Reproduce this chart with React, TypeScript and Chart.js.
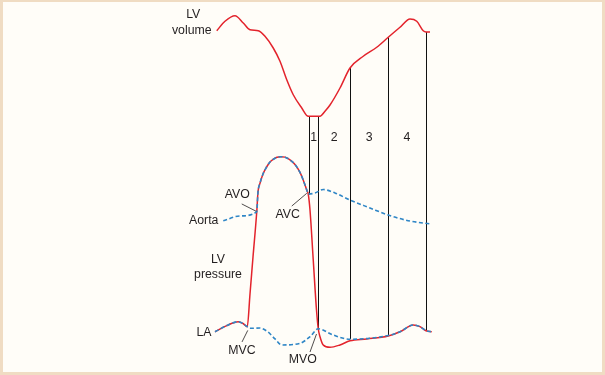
import React, { useEffect, useRef } from 'react';
import { Chart, registerables } from 'chart.js';

Chart.register(...registerables);

// ---- Data (time in ms, pressure in mmHg, volume in mL) ----
const volumeTimes = [7, 40, 80, 113, 140, 173, 200, 233, 260, 287, 313, 347, 373, 420, 440, 460, 500, 540, 593, 647, 693, 740, 780, 807, 833, 844, 860];
const lvVolume = [118.6, 126.2, 130.6, 124.8, 119.4, 118.6, 114.2, 104.8, 94.2, 79.4, 67.4, 56.8, 50.2, 50.2, 54.2, 59.2, 72.8, 88.8, 98.2, 105.4, 113.4, 121.4, 128, 126.2, 118.6, 117.6, 117.6];

const lvPressureTimes = [0, 47, 93, 112, 129, 140, 152, 167, 172, 180, 192, 207, 220, 233, 248, 263, 280, 300, 320, 340, 352, 367, 373, 380, 393, 406, 413, 420, 433, 460, 500, 540, 607, 693, 740, 793, 820, 844, 867];
const lvPressure = [13.5, 17.6, 20.2, 19.0, 16.9, 38.7, 63.3, 93.5, 106.7, 112.5, 118.7, 123.5, 126.7, 128.5, 129.8, 130.2, 129.9, 128.1, 125.0, 119.7, 115.0, 108.0, 105.3, 94.7, 61.3, 28.0, 15.5, 10.2, 4.7, 3.1, 4.7, 7.5, 8.7, 10.7, 13.5, 18.0, 16.9, 14.2, 13.5];

const aortaTimes = [33, 100, 167, 172, 180, 192, 207, 220, 233, 248, 263, 280, 300, 320, 340, 352, 367, 373, 400, 433, 480, 540, 620, 693, 780, 867];
const aortaPressure = [87.5, 90.7, 93.5, 106.7, 112.5, 118.7, 123.5, 126.7, 128.5, 129.8, 130.2, 129.9, 128.1, 125.0, 119.7, 115.0, 108.0, 105.3, 106.0, 108.3, 106.0, 101.3, 96.0, 91.3, 87.3, 85.3];

const laTimes = [0, 47, 93, 112, 129, 140, 180, 212, 240, 267, 340, 380, 413, 473, 540, 693, 740, 793, 820, 844, 867];
const laPressure = [13.5, 17.6, 20.2, 19.0, 16.9, 15.8, 16.0, 13.3, 8.7, 4.7, 5.8, 10.2, 15.5, 11.3, 8.5, 11.0, 13.5, 18.0, 16.9, 14.2, 13.5];

// Phase boundaries (ms), volume at top of each boundary, pressure at bottom
const phaseTimes = [377, 413, 540, 693, 843];
const phaseTopVolume = [50.2, 50.2, 88.8, 113.4, 117.6];
const phaseBottomPressure = [105, 15.5, 8.7, 11, 14.5];
const phaseLabels = ['1', '2', '3', '4'];

// ---- Style / layout ----
const RED = '#e3232c';
const BLUE = '#2f86c6';
const INK = '#231f20';
const BORDER = '#f0dcc3';
const PAPER = '#fffdf8';
const FONT = '12.3px "Liberation Sans", Arial, Helvetica, sans-serif';

const T_MIN = -860, T_MAX = 1560;
const P_MIN = -15.33, P_MAX = 234.67;
const V_MIN = -156.8, V_MAX = 143.2;
const PHASE_LABEL_P = 142.7;

type Label = { text: string; t: number; v: number; axis: 'yP' | 'yV' };
const textLabels: Label[] = [
  { text: 'LV', t: -87, v: 131.2, axis: 'yV' },
  { text: 'volume', t: -93, v: 118.4, axis: 'yV' },
  { text: 'AVO', t: 89, v: 105.1, axis: 'yP' },
  { text: 'Aorta', t: -45, v: 87.5, axis: 'yP' },
  { text: 'AVC', t: 291, v: 91.3, axis: 'yP' },
  { text: 'LV', t: 12, v: 61.3, axis: 'yP' },
  { text: 'pressure', t: 12, v: 51.3, axis: 'yP' },
  { text: 'LA', t: -44, v: 12.9, axis: 'yP' },
  { text: 'MVC', t: 108, v: 0.9, axis: 'yP' },
  { text: 'MVO', t: 351, v: -4.9, axis: 'yP' },
];

const leaders: [number, number, number, number][] = [
  [107, 98.7, 165, 93.8],
  [307, 97.3, 367, 105.8],
  [108, 6.7, 131, 14.4],
  [380, 0, 406, 12],
];

const zip = (xs: number[], ys: number[]) => xs.map((x, i) => ({ x, y: ys[i] }));

const decorPlugin = {
  id: 'decor',
  beforeDraw(chart: any) {
    const { ctx, width, height } = chart;
    ctx.save();
    ctx.fillStyle = BORDER;
    ctx.fillRect(0, 0, width, height);
    ctx.fillStyle = PAPER;
    ctx.fillRect(3, 2, width - 6, height - 5);
    ctx.restore();
  },
  beforeDatasetsDraw(chart: any) {
    const { ctx, scales } = chart;
    const x = scales.x, yP = scales.yP, yV = scales.yV;
    ctx.save();
    ctx.strokeStyle = '#111';
    ctx.lineWidth = 1;
    phaseTimes.forEach((t, i) => {
      const px = Math.round(x.getPixelForValue(t)) + 0.5;
      ctx.beginPath();
      ctx.moveTo(px, yV.getPixelForValue(phaseTopVolume[i]));
      ctx.lineTo(px, yP.getPixelForValue(phaseBottomPressure[i]));
      ctx.stroke();
    });
    ctx.restore();
  },
  afterDatasetsDraw(chart: any) {
    const { ctx, scales } = chart;
    const x = scales.x, yP = scales.yP;
    ctx.save();
    ctx.strokeStyle = INK;
    ctx.lineWidth = 0.8;
    leaders.forEach(([t1, p1, t2, p2]) => {
      ctx.beginPath();
      ctx.moveTo(x.getPixelForValue(t1), yP.getPixelForValue(p1));
      ctx.lineTo(x.getPixelForValue(t2), yP.getPixelForValue(p2));
      ctx.stroke();
    });
    ctx.fillStyle = INK;
    ctx.font = FONT;
    ctx.textAlign = 'center';
    ctx.textBaseline = 'middle';
    textLabels.forEach((l) => {
      ctx.fillText(l.text, x.getPixelForValue(l.t), scales[l.axis].getPixelForValue(l.v));
    });
    phaseLabels.forEach((txt, i) => {
      const mid = (phaseTimes[i] + phaseTimes[i + 1]) / 2;
      ctx.fillText(txt, x.getPixelForValue(mid), yP.getPixelForValue(PHASE_LABEL_P));
    });
    ctx.restore();
  },
};

export default function App() {
  const ref = useRef<HTMLCanvasElement>(null);
  useEffect(() => {
    if (!ref.current) return;
    const common = {
      pointRadius: 0,
      pointHoverRadius: 0,
      fill: false,
      cubicInterpolationMode: 'monotone' as const,
      clip: false as any,
    };
    const chart = new Chart(ref.current, {
      type: 'line',
      data: {
        datasets: [
          { ...common, label: 'Aorta', data: zip(aortaTimes, aortaPressure), yAxisID: 'yP', borderColor: BLUE, borderWidth: 1.6, borderDash: [4, 2.5], order: 0 },
          { ...common, label: 'LA', data: zip(laTimes, laPressure), yAxisID: 'yP', borderColor: BLUE, borderWidth: 1.6, borderDash: [4, 2.5], order: 0 },
          { ...common, label: 'LV pressure', data: zip(lvPressureTimes, lvPressure), yAxisID: 'yP', borderColor: RED, borderWidth: 1.5, order: 1 },
          { ...common, label: 'LV volume', data: zip(volumeTimes, lvVolume), yAxisID: 'yV', borderColor: RED, borderWidth: 1.5, order: 1 },
        ],
      },
      options: {
        responsive: false,
        animation: false,
        devicePixelRatio: 1,
        layout: { padding: 0 },
        events: [],
        plugins: { legend: { display: false }, tooltip: { enabled: false }, title: { display: false } },
        scales: {
          x: { type: 'linear', min: T_MIN, max: T_MAX, display: false },
          yP: { type: 'linear', min: P_MIN, max: P_MAX, display: false },
          yV: { type: 'linear', min: V_MIN, max: V_MAX, display: false },
        },
      },
      plugins: [decorPlugin],
    });
    return () => chart.destroy();
  }, []);
  return (
    <div style={{ position: 'absolute', left: 0, top: 0, width: 605, height: 375 }}>
      <canvas ref={ref} width={605} height={375} style={{ display: 'block', width: 605, height: 375 }} />
    </div>
  );
}
